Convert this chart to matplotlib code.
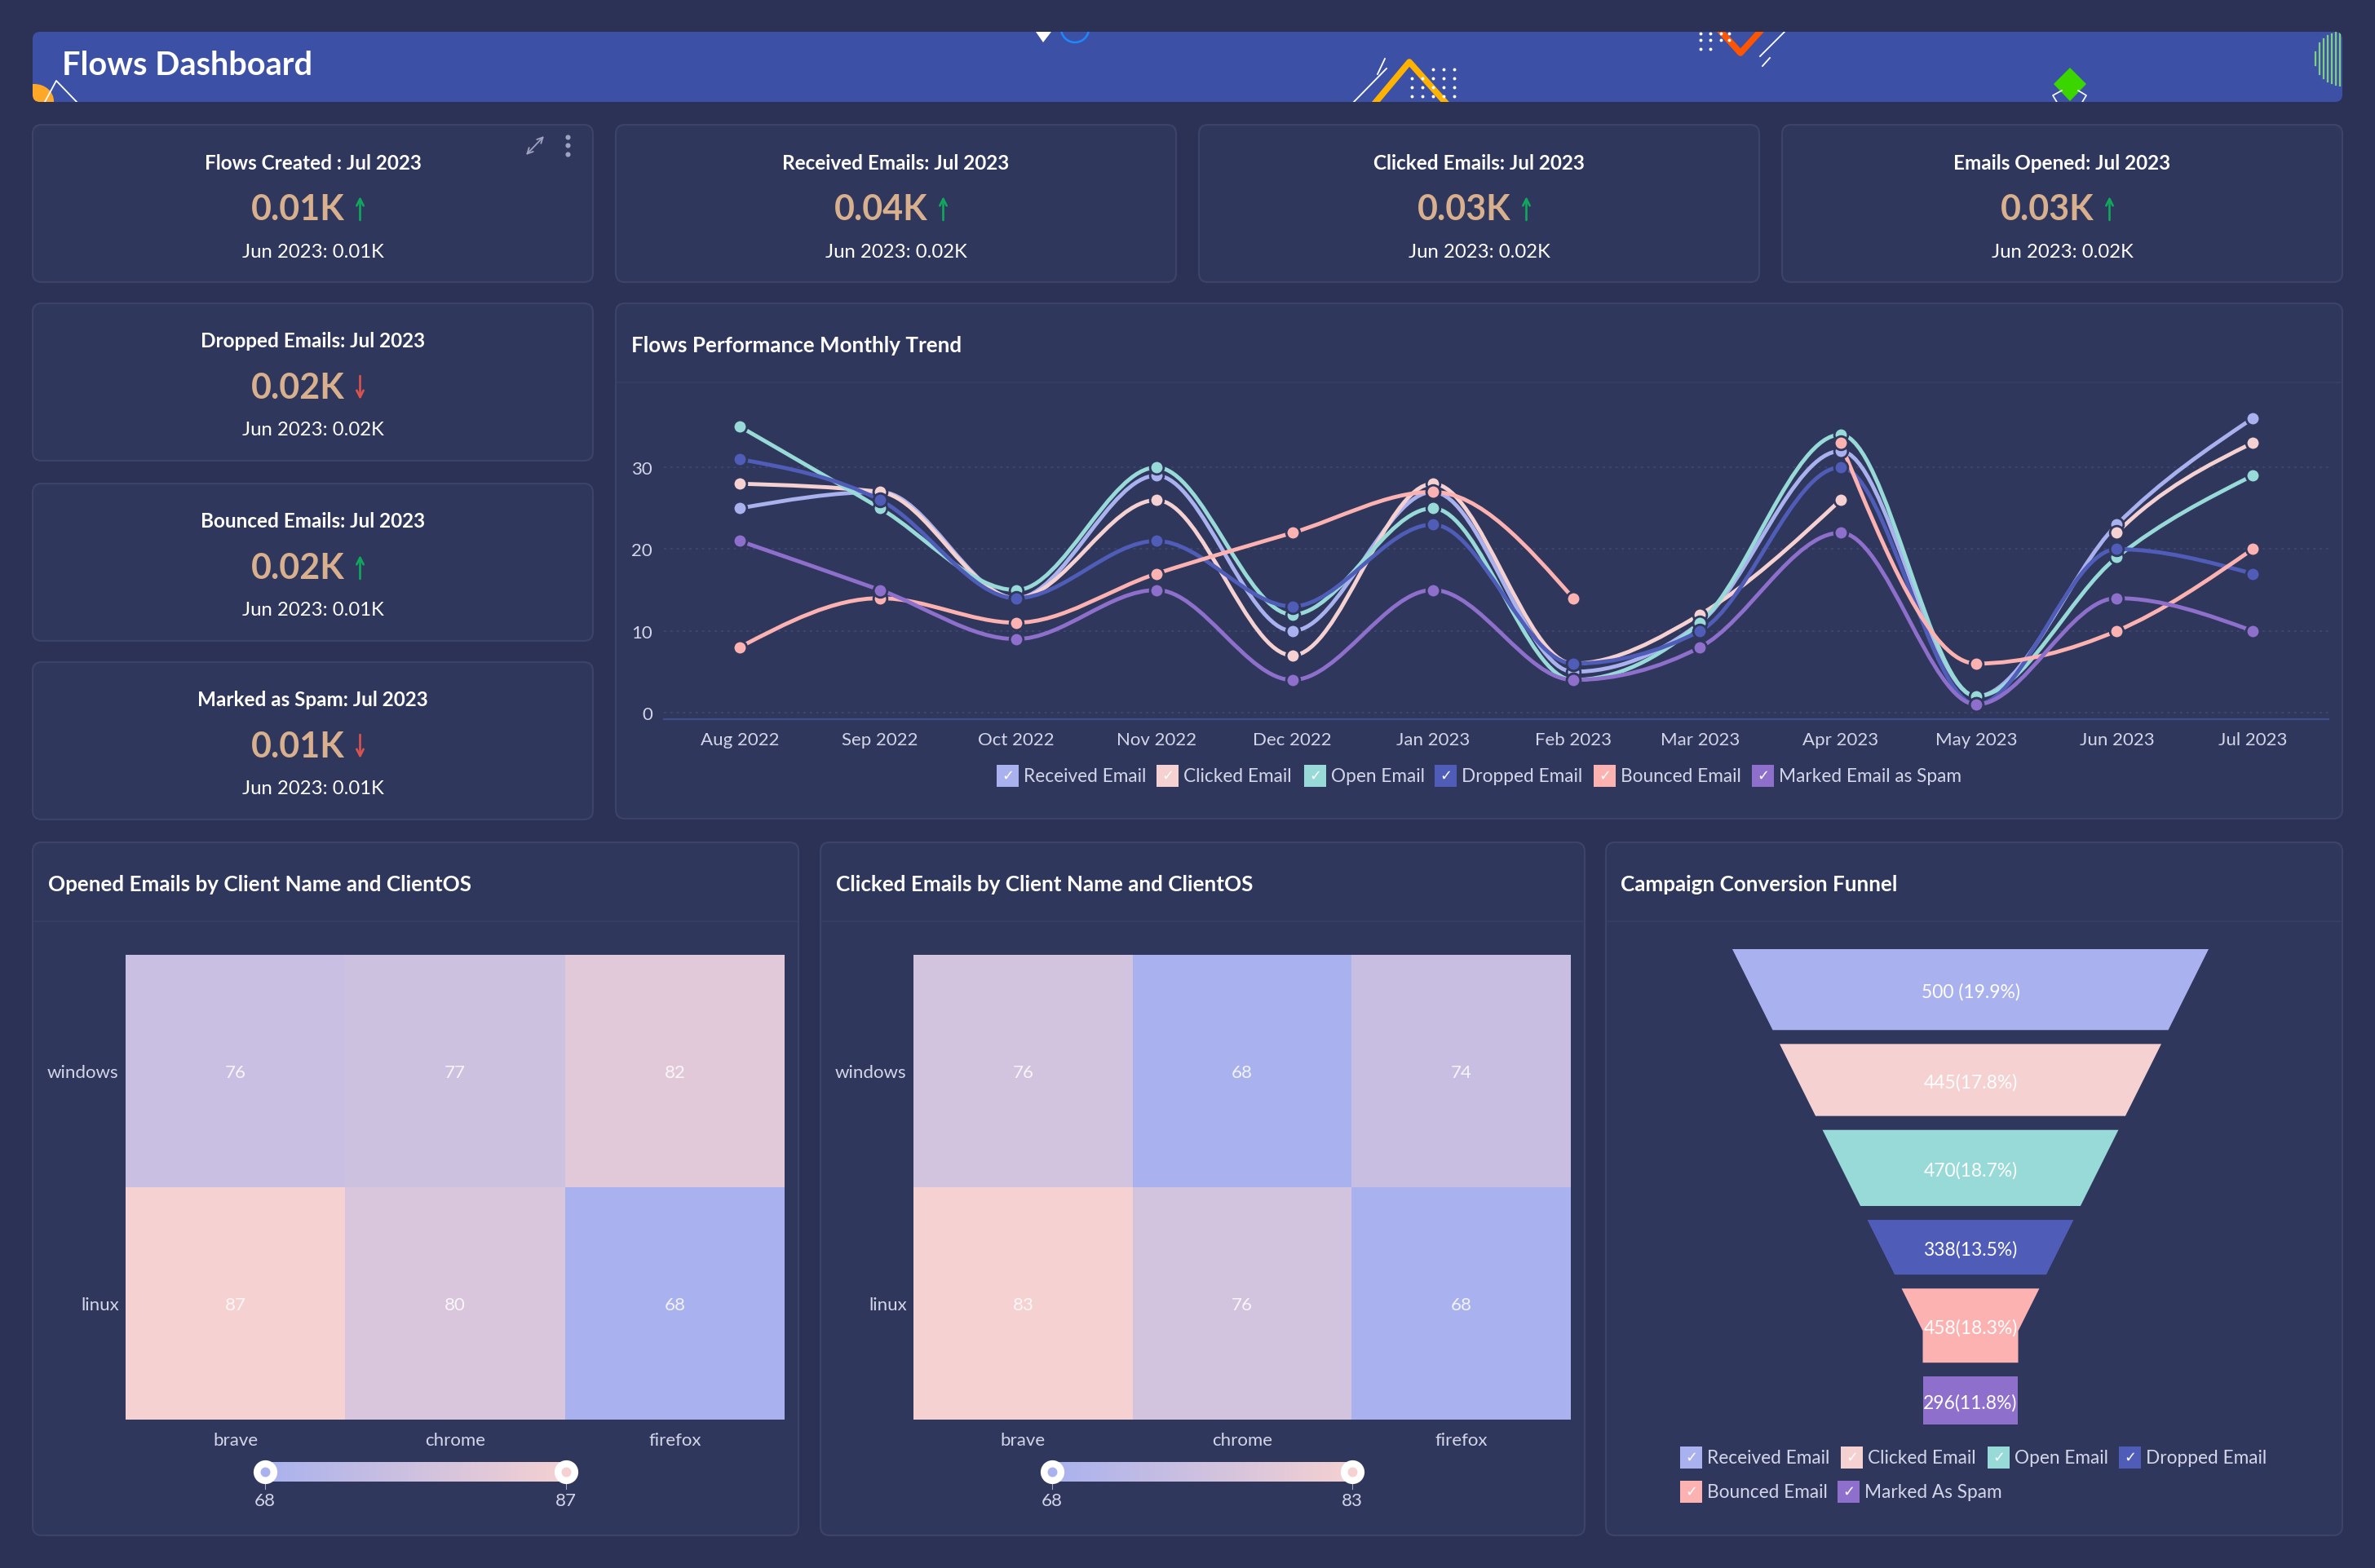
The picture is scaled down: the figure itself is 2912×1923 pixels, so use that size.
import numpy as np
import pandas as pd
import matplotlib
matplotlib.use('Agg')
import matplotlib.pyplot as plt
import matplotlib.dates as mdates
from matplotlib.colors import LinearSegmentedColormap
from matplotlib.patches import FancyBboxPatch, Rectangle, Polygon, Ellipse, Circle, PathPatch
from matplotlib.path import Path

plt.rcParams['font.family'] = ['Lato', 'DejaVu Sans']

W, H = 2912, 1924

# kpi cards
card_titles = ["Flows Created : Jul 2023", "Received Emails: Jul 2023", "Clicked Emails: Jul 2023",
               "Emails Opened: Jul 2023", "Dropped Emails: Jul 2023", "Bounced Emails: Jul 2023",
               "Marked as Spam: Jul 2023"]
card_values = ["0.01K", "0.04K", "0.03K", "0.03K", "0.02K", "0.02K", "0.01K"]
card_previous = ["Jun 2023: 0.01K", "Jun 2023: 0.02K", "Jun 2023: 0.02K", "Jun 2023: 0.02K",
                 "Jun 2023: 0.02K", "Jun 2023: 0.01K", "Jun 2023: 0.01K"]
card_up = [True, True, True, True, False, True, False]

# monthly trend
months = pd.date_range("2022-08-01", "2023-07-01", freq="MS")
received = [25, 27, 14, 29, 10, 27, 5, 11, 32, 2, 23, 36]
clicked = [28, 27, 14, 26, 7, 28, 6, 12, 26, None, 22, 33]
opened = [35, 25, 15, 30, 12, 25, 4, 11, 34, 2, 19, 29]
dropped = [31, 26, 14, 21, 13, 23, 6, 10, 30, 1, 20, 17]
bounced = [8, 14, 11, 17, 22, 27, 14, None, 33, 6, 10, 20]
spam = [21, 15, 9, 15, 4, 15, 4, 8, 22, 1, 14, 10]

# heatmaps
clients = ["brave", "chrome", "firefox"]
client_os = ["windows", "linux"]
opened_heat = [[76, 77, 82], [87, 80, 68]]
clicked_heat = [[76, 68, 74], [83, 76, 68]]

# funnel
funnel_values = [500, 445, 470, 338, 458, 296]
funnel_labels = ["500 (19.9%)", "445(17.8%)", "470(18.7%)", "338(13.5%)", "458(18.3%)", "296(11.8%)"]

BG = '#2c3156'
PANEL = '#30375c'
BORDER = '#3b4369'
BANNER = '#3c51a6'
C_RECEIVED = '#a9b2ee'
C_CLICKED = '#f5d1d1'
C_OPEN = '#98dad8'
C_DROPPED = '#4f5db9'
C_BOUNCED = '#fdb2b2'
C_SPAM = '#8e70cc'
TICK = '#d3d6e8'
VALUE = '#d8b08e'

fig = plt.figure(figsize=(W / 100, H / 100), dpi=100, facecolor=BG)
base = fig.add_axes([0, 0, 1, 1])
base.set_xlim(0, W)
base.set_ylim(H, 0)
base.axis('off')


def pxAxes(x0, y0, x1, y1):
    a = fig.add_axes([x0 / W, 1 - y1 / H, (x1 - x0) / W, (y1 - y0) / H])
    a.patch.set_alpha(0)
    return a


def panel(x0, y0, x1, y1, title=None, title_x=None, sep_y=None):
    base.add_patch(FancyBboxPatch((x0, y0), x1 - x0, y1 - y0, boxstyle="round,pad=0,rounding_size=11",
                                  fc=PANEL, ec=BORDER, lw=1.6))
    if title:
        base.text(title_x, y0 + 51, title, color='white', fontsize=18.7, fontweight='bold', va='center')
        base.plot([x0 + 2, x1 - 2], [sep_y, sep_y], color='#353d63', lw=1.6)


def checkLegend(names, colors, xs, ys):
    for name, c, x, y in zip(names, colors, xs, ys):
        base.add_patch(Rectangle((x, y - 13.5), 27, 27, fc=c, ec='none'))
        base.text(x + 13.5, y, "\u2713", color='white', fontsize=13, family='DejaVu Sans', ha='center', va='center')
        base.text(x + 33, y + 1, name, color=TICK, fontsize=16.3, va='center')


# banner
banner = FancyBboxPatch((40, 40), 2832, 86, boxstyle="round,pad=0,rounding_size=9", fc=BANNER, ec='none')
base.add_patch(banner)
base.text(76, 80, "Flows Dashboard", color='white', fontsize=28.5, fontweight='bold', va='center')


def deco(artist):
    base.add_artist(artist)
    artist.set_clip_path(banner)
    return artist


deco(Ellipse((42, 125), 48, 42, fc='#ffa726', ec='none'))
deco(plt.Line2D([42, 69, 95], [150, 100, 127], color='white', lw=1.3))
deco(Polygon([(1270, 40), (1289, 40), (1279, 53)], fc='white', ec='none'))
deco(Circle((1318, 36), 17, fc='none', ec='#1e88ff', lw=1.8))
deco(plt.Line2D([1682, 1728, 1777], [132, 77, 132], color='#ffb300', lw=5.5))
deco(plt.Line2D([1656, 1700], [130, 85], color='white', lw=1.3))
deco(plt.Line2D([1689, 1698], [92, 73], color='white', lw=1.3))
dot_x, dot_y = np.meshgrid([1731, 1744, 1757, 1770, 1783], [86, 97, 108, 119])
deco(plt.Line2D(dot_x.ravel()[2:], dot_y.ravel()[2:], ls='none', marker='o', ms=1.8, color='white'))
deco(plt.Line2D([2103, 2134, 2165], [32, 66, 32], color='#ff5500', lw=5.5))
deco(plt.Line2D([2188, 2158], [40, 70], color='white', lw=1.3))
deco(plt.Line2D([2170, 2161], [72, 82], color='white', lw=1.3))
dot_x, dot_y = np.meshgrid([2085, 2097, 2110, 2120], [42, 50, 61])
deco(plt.Line2D(dot_x.ravel()[:10], dot_y.ravel()[:10], ls='none', marker='o', ms=1.8, color='white'))
deco(Polygon([(2538, 84), (2558, 104), (2538, 125), (2518, 104)], fc='#3bd600', ec='none'))
deco(plt.Line2D([2528, 2517, 2523], [112, 118, 128], color='white', lw=1.2))
deco(plt.Line2D([2548, 2558, 2552], [112, 118, 128], color='white', lw=1.2))
for sx in range(2839, 2872, 5):
    half = 33 * np.sqrt(max(0, 1 - ((sx - 2872) / 34.0) ** 2))
    deco(plt.Line2D([sx, sx], [73 - half, 73 + half], color='#7ed07a', lw=1.6))

# kpi cards
card_boxes = [(40, 154), (755, 154), (1470, 154), (2185, 154), (40, 373), (40, 594), (40, 813)]
for box, t, v, p, up in zip(card_boxes, card_titles, card_values, card_previous, card_up):
    x0, y0 = box
    cx = x0 + 343.5
    panel(x0, y0, x0 + 687, y0 + 193)
    base.text(cx, y0 + 46, t, color='white', fontsize=17.5, fontweight='bold', ha='center', va='center')
    base.text(cx - 18, y0 + 103, v, color=VALUE, fontsize=31, fontweight='bold', ha='center', va='center')
    base.text(cx, y0 + 155, p, color='white', fontsize=17.2, ha='center', va='center')
    col = '#10a85c' if up else '#d9534f'
    ya, yb = (y0 + 117, y0 + 88) if up else (y0 + 89, y0 + 118)
    base.annotate('', xy=(cx + 58, yb), xytext=(cx + 58, ya),
                  arrowprops=dict(arrowstyle='->,head_length=0.6,head_width=0.3', color=col, lw=1.9,
                                  shrinkA=0, shrinkB=0))

# card icons
base.annotate('', xy=(667, 168), xytext=(645, 191),
              arrowprops=dict(arrowstyle='<->,head_length=0.5,head_width=0.25', color='#9da3c0', lw=1.3,
                              shrinkA=0, shrinkB=0))
base.plot([696, 696, 696], [169, 179, 190], ls='none', marker='o', ms=3.4, color='#9da3c0')

# trend panel
panel(755, 373, 2872, 1005, "Flows Performance Monthly Trend", 774, 470)


def monotoneSegments(xs, ys):
    # monotone cubic through the given points, returned as bezier path
    xs = np.asarray(xs, dtype=float)
    ys = np.asarray(ys, dtype=float)
    h = np.diff(xs)
    s = np.diff(ys) / h
    m = np.zeros(len(xs))
    for i in range(1, len(xs) - 1):
        if s[i - 1] * s[i] <= 0:
            m[i] = 0
        else:
            p = (s[i - 1] * h[i] + s[i] * h[i - 1]) / (h[i - 1] + h[i])
            m[i] = np.sign(s[i - 1]) * min(abs(s[i - 1]), abs(s[i]), 0.5 * abs(p)) * 2
    if len(xs) > 1:
        m[0] = (3 * s[0] - m[1]) / 2
        m[-1] = (3 * s[-1] - m[-2]) / 2
    verts = [(xs[0], ys[0])]
    codes = [Path.MOVETO]
    for i in range(len(xs) - 1):
        verts += [(xs[i] + h[i] / 3, ys[i] + m[i] * h[i] / 3),
                  (xs[i + 1] - h[i] / 3, ys[i + 1] - m[i + 1] * h[i] / 3),
                  (xs[i + 1], ys[i + 1])]
        codes += [Path.CURVE4] * 3
    return Path(verts, codes)


ax = pxAxes(814, 490, 2855, 883)
month_num = mdates.date2num(months)
px_day = (2762 - 907) / (month_num[-1] - month_num[0])
ax.set_xlim(month_num[0] - (907 - 814) / px_day, month_num[0] + (2855 - 907) / px_day)
ax.set_ylim(-0.8, 38.4)
series = [("Received Email", received, C_RECEIVED), ("Clicked Email", clicked, C_CLICKED),
          ("Open Email", opened, C_OPEN), ("Dropped Email", dropped, C_DROPPED),
          ("Bounced Email", bounced, C_BOUNCED), ("Marked Email as Spam", spam, C_SPAM)]
for name, vals, col in series:
    run_x, run_y = [], []
    for x, v in list(zip(month_num, vals)) + [(None, None)]:
        if v is None:
            if len(run_x) > 1:
                ax.add_patch(PathPatch(monotoneSegments(run_x, run_y), fc='none', ec=col, lw=3.5, capstyle='round'))
            run_x, run_y = [], []
        else:
            run_x.append(x)
            run_y.append(v)
    present = [(x, v) for x, v in zip(month_num, vals) if v is not None]
    ax.plot([q[0] for q in present], [q[1] for q in present], ls='none', marker='o', ms=12,
            mfc=col, mec=PANEL, mew=2, zorder=3)
for s in ['top', 'left', 'right']:
    ax.spines[s].set_visible(False)
ax.spines['bottom'].set_color('#3f4f8c')
ax.spines['bottom'].set_linewidth(1.6)
ax.set_yticks([0, 10, 20, 30])
ax.yaxis.grid(True, color='#3e4670', ls=(0, (1.5, 2.5)), lw=1.4)
ax.set_axisbelow(True)
ax.set_xticks(month_num)
ax.xaxis.set_major_formatter(mdates.DateFormatter('%b %Y'))
ax.tick_params(axis='x', length=0, colors=TICK, labelsize=16, pad=11)
ax.tick_params(axis='y', length=0, colors=TICK, labelsize=16, pad=10)

checkLegend([q[0] for q in series], [q[2] for q in series],
            [1222, 1418, 1599, 1759, 1954, 2148], [952] * 6)

# heatmap panels
panel(40, 1034, 979, 1884, "Opened Emails by Client Name and ClientOS", 59, 1131)
panel(1006, 1034, 1943, 1884, "Clicked Emails by Client Name and ClientOS", 1025, 1131)
panel(1969, 1034, 2872, 1884, "Campaign Conversion Funnel", 1987, 1131)

heat_cmap = LinearSegmentedColormap.from_list('heat', [C_RECEIVED, C_CLICKED])


def heatmap(box, values, slider_x):
    a = pxAxes(*box)
    vals = np.array(values)
    vmin, vmax = vals.min(), vals.max()
    a.pcolormesh(vals, cmap=heat_cmap, vmin=vmin, vmax=vmax)
    a.set_ylim(2, 0)
    for r in range(vals.shape[0]):
        for c in range(vals.shape[1]):
            a.text(c + 0.5, r + 0.505, str(vals[r, c]), color='white', alpha=0.85, fontsize=16,
                   ha='center', va='center')
    a.set_xticks([0.5, 1.5, 2.5], clients)
    a.set_yticks([0.5, 1.5], client_os)
    a.tick_params(length=0, colors=TICK, labelsize=16)
    a.tick_params(axis='x', pad=11)
    a.tick_params(axis='y', pad=6)
    for s in a.spines.values():
        s.set_visible(False)
    # range slider
    sa = pxAxes(slider_x[0], 1794, slider_x[1], 1818)
    sa.imshow(np.linspace(vmin, vmax, 256)[None, :], cmap=heat_cmap, aspect='auto', vmin=vmin, vmax=vmax,
              extent=(vmin, vmax, 0, 1))
    sa.axis('off')
    ends = [(slider_x[0], vmin, C_RECEIVED), (slider_x[1], vmax, C_CLICKED)]
    for hx, v, col in ends:
        base.plot([hx, hx], [1820, 1827], color='#9da3c0', lw=0.8)
        base.text(hx, 1841, str(v), color=TICK, fontsize=16, ha='center', va='center')
        sa.plot([v], [0.5], marker='o', ms=14.8, mfc=col, mec='white', mew=6.2, clip_on=False, zorder=5)


heatmap((154, 1172, 962, 1742), opened_heat, (325, 694))
heatmap((1120, 1172, 1926, 1742), clicked_heat, (1290, 1658))

# funnel, one y unit per funnel count
GAP = 86
TOP_WIDTH = 2950
NECK_WIDTH = 591
fa = pxAxes(2124, 1165, 2708, 1748)
total = sum(funnel_values) + GAP * (len(funnel_values) - 1)
fa.set_xlim(-TOP_WIDTH / 2, TOP_WIDTH / 2)
fa.set_ylim(total, 0)
fa.axis('off')
funnel_colors = [C_RECEIVED, C_CLICKED, C_OPEN, C_DROPPED, C_BOUNCED, C_SPAM]


def funnelWidth(y):
    return max(NECK_WIDTH, TOP_WIDTH - y)


y = 0
for v, lab, col in zip(funnel_values, funnel_labels, funnel_colors):
    bottom = y + v
    pts_y = [y]
    neck_y = TOP_WIDTH - NECK_WIDTH
    if y < neck_y < bottom:
        pts_y.append(neck_y)
    pts_y.append(bottom)
    left = [(-funnelWidth(p) / 2, p) for p in pts_y]
    right = [(funnelWidth(p) / 2, p) for p in reversed(pts_y)]
    fa.add_patch(Polygon(left + right, fc=col, ec='none'))
    fa.text(0, y + v / 2 + 10, lab, color='white', fontsize=16.5, ha='center', va='center', zorder=5)
    y = bottom + GAP

checkLegend(["Received Email", "Clicked Email", "Open Email", "Dropped Email", "Bounced Email", "Marked As Spam"],
            funnel_colors, [2060, 2257, 2437, 2598, 2060, 2253], [1788, 1788, 1788, 1788, 1830, 1830])

fig.savefig('out.png', dpi=100, facecolor=BG)
